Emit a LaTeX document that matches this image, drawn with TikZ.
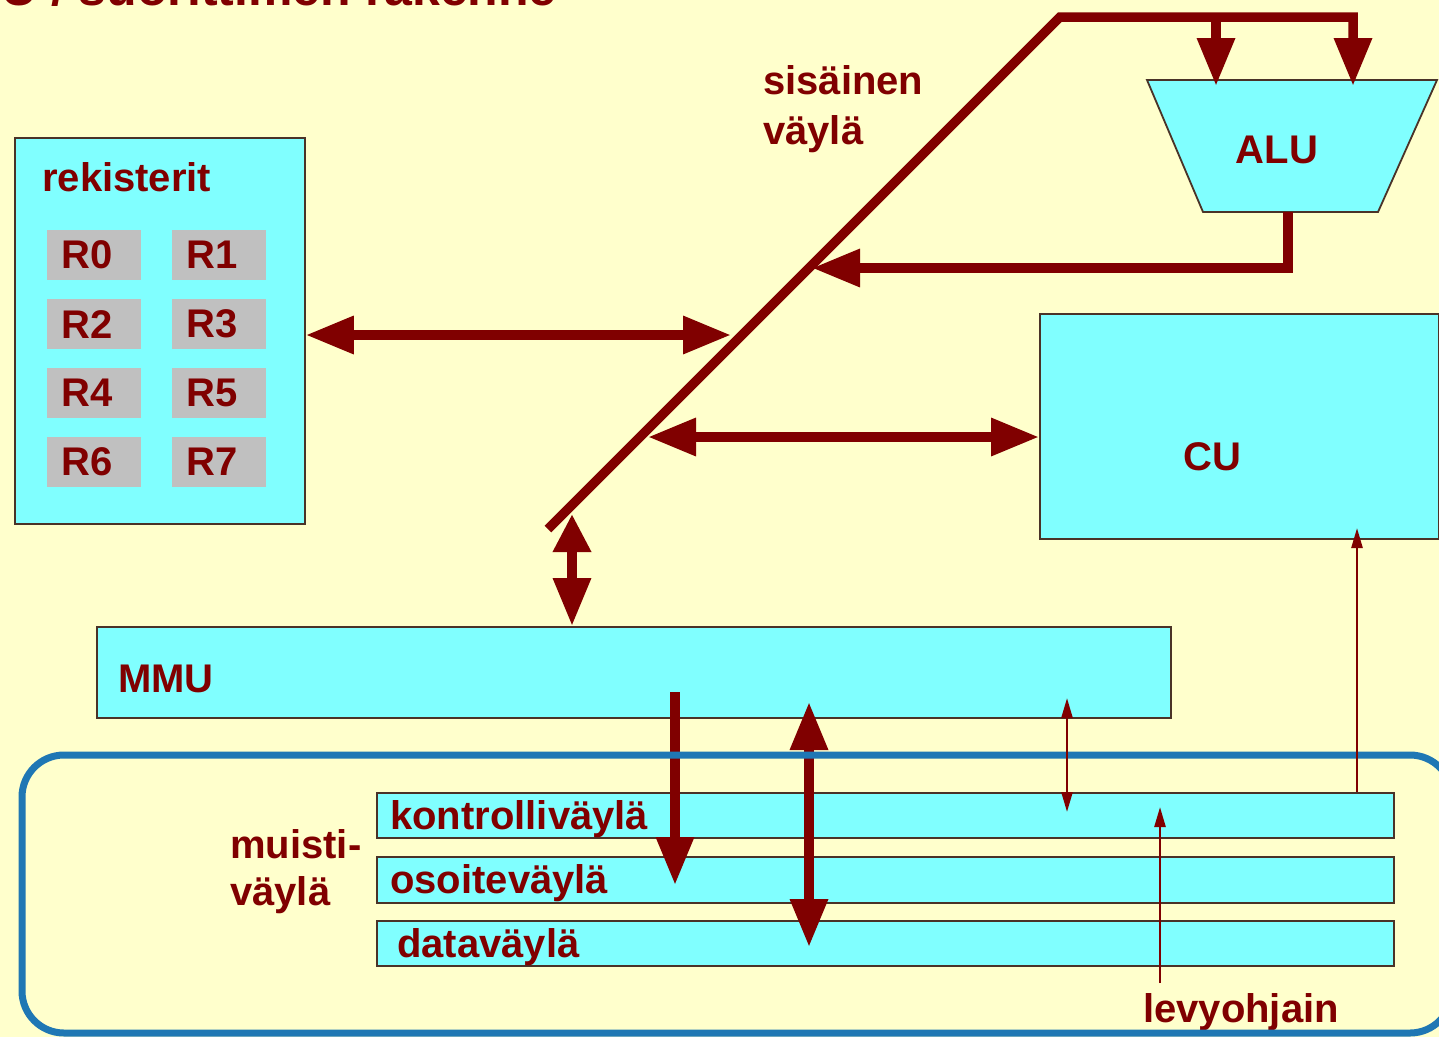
\documentclass[tikz,border=0pt]{standalone}
\usepackage{fontspec}
\setmainfont{Liberation Sans}
\usetikzlibrary{arrows.meta}
\definecolor{paper}{HTML}{FFFFCC}
\definecolor{unit}{HTML}{80FFFF}
\definecolor{regfill}{HTML}{C0C0C0}
\definecolor{wire}{HTML}{800000}
\definecolor{edge}{HTML}{4A3328}
\definecolor{membus}{HTML}{1F77B4}
\begin{document}
\begin{tikzpicture}[x=1pt,y=-1pt,
  every node/.style={text=wire, font=\fontsize{40}{48}\selectfont\bfseries, inner sep=0pt},
  unitbox/.style={draw=edge, line width=1.8pt, fill=unit, anchor=north west, inner sep=0pt},
  regcell/.style={fill=regfill, minimum width=94pt, minimum height=50pt, text width=66pt,
    inner xsep=14pt, inner ysep=0pt, align=left, anchor=north west},
  txt/.style={anchor=base west, align=left},
  bigbus/.style={draw=wire, line width=9.5pt, line join=miter},
  bigarrow/.style={bigbus, -{Triangle[length=48pt,width=36pt]}},
  bigboth/.style={bigbus, {Triangle[length=48pt,width=36pt]}-{Triangle[length=48pt,width=36pt]}},
  thinarrow/.style={draw=wire, line width=2.5pt, -{Triangle[length=20pt,width=11pt]}},
  thinboth/.style={draw=wire, line width=2.5pt, {Triangle[length=20pt,width=11pt]}-{Triangle[length=20pt,width=11pt]}}
]
\useasboundingbox (0,0) rectangle (1439,1037);
\clip (0,0) rectangle (1439,1037);
\fill[paper] (0,0) rectangle (1439,1037);

% heading
\node[anchor=base east, font=\fontsize{50}{60}\selectfont\bfseries] (title) at (557,5) {CPU / suorittimen rakenne};

% register file
\node[unitbox, minimum width=290pt, minimum height=386pt] (regs) at (14,137) {};
\node[txt] (reglbl) at (42,191) {rekisterit};
\node[regcell] (r0) at (47,230) {R0};
\node[regcell] (r1) at (172,230) {R1};
\node[regcell] (r2) at (47,299) {R2};
\node[regcell] (r3) at (172,299) {R3};
\node[regcell] (r4) at (47,368) {R4};
\node[regcell] (r5) at (172,368) {R5};
\node[regcell] (r6) at (47,437) {R6};
\node[regcell] (r7) at (172,437) {R7};

% ALU
\filldraw[fill=unit, draw=edge, line width=1.8pt] (1147,80) -- (1437,80) -- (1378,212) -- (1203,212) -- cycle;
\node (alu) at (1277,150) {ALU};
\coordinate (aluin1) at (1216,86);
\coordinate (aluin2) at (1353,86);
\coordinate (aluout) at (1288,212);

% control unit
\node[unitbox, minimum width=399pt, minimum height=225pt] (cu) at (1039,313) {};
\node (culbl) at (1212,457) {CU};

% memory management unit
\node[unitbox, minimum width=1074pt, minimum height=91pt] (mmu) at (96,626) {};
\node[txt] (mmulbl) at (118,692) {MMU};

% memory bus lines
\node[unitbox, minimum width=1017pt, minimum height=45pt] (kbus) at (376,792) {};
\node[unitbox, minimum width=1017pt, minimum height=46pt] (abus) at (376,856) {};
\node[unitbox, minimum width=1017pt, minimum height=45pt] (dbus) at (376,920) {};
\node[txt] (klbl) at (390,829) {kontrolliväylä};
\node[txt] (albl) at (390,893) {osoiteväylä};
\node[txt] (dlbl) at (397,957) {dataväylä};
\node[txt] (mlbl1) at (230,858) {muisti-};
\node[txt] (mlbl2) at (230,905) {väylä};
\node[txt] (levlbl) at (1143,1022) {levyohjain};

% internal bus
\coordinate (ibtop) at (1060,17);
\coordinate (ibbot) at (548,529);
\coordinate (bR) at (731,335);
\coordinate (bA) at (812,268);
\coordinate (bC) at (648,437);
\coordinate (bM) at (572,514);
\node[txt] (iblbl1) at (763,94) {sisäinen};
\node[txt] (iblbl2) at (763,144) {väylä};

\draw[bigarrow] (ibbot) -- (ibtop) -- (ibtop -| aluin2) -- (aluin2);
\draw[bigarrow] (ibtop -| aluin1) -- (aluin1);
\draw[bigarrow] (aluout) |- (bA);
\draw[bigboth] (bR -| regs.east) -- (bR);
\draw[bigboth] (bC) -- (bC -| cu.west);
\draw[bigbus, {Triangle[length=38pt,width=36pt]}-{Triangle[length=48pt,width=36pt]}] (bM) -- (bM |- mmu.north);

% MMU to address and data lines
\coordinate (addrout) at (675,692);
\coordinate (addrin) at (675,885);
\coordinate (datatop) at (809,702);
\coordinate (databot) at (809,947);
\draw[bigarrow] (addrout) -- (addrin);
\draw[bigboth] (datatop) -- (databot);

% memory bus frame
\draw[membus, line width=7pt, rounded corners=42pt] (22,755) rectangle (1452,1033);

% control signals
\coordinate (ctltop) at (1067,698);
\coordinate (ctlbot) at (1067,812);
\coordinate (levtop) at (1160,807);
\coordinate (levbot) at (1160,983);
\coordinate (cuin) at (1357,528);
\draw[thinboth] (ctltop) -- (ctlbot);
\draw[thinarrow] (levbot) -- (levtop);
\draw[thinarrow] (kbus.north -| cuin) -- (cuin);
\end{tikzpicture}
\end{document}
